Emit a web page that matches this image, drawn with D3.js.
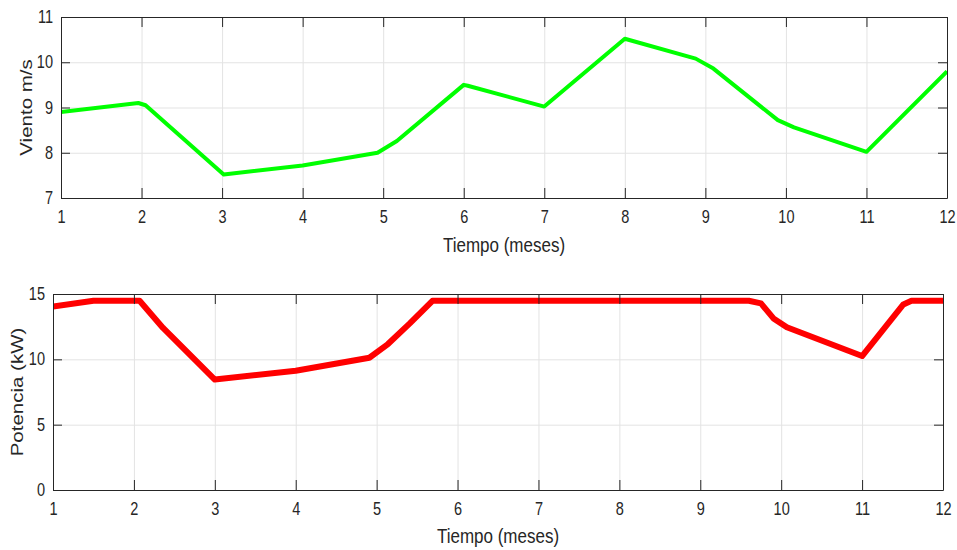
<!DOCTYPE html>
<html>
<head>
<meta charset="utf-8">
<script src="https://cdn.jsdelivr.net/npm/d3@7"></script>
<style>
  body { margin: 0; background: #fff; }
  svg { display: block; font-family: "Liberation Sans", Arial, sans-serif; }
</style>
</head>
<body>
<script>
// datos
const monthTicks = [1, 2, 3, 4, 5, 6, 7, 8, 9, 10, 11, 12];

const windMonths = [1, 1.96, 2.05, 3.02, 4, 4.93, 5.17, 6.0, 6.05, 7, 8, 8.88, 9.1, 9.9, 10.1, 11, 12];
const windSpeed = [8.9, 9.1, 9.05, 7.52, 7.72, 8.0, 8.26, 9.5, 9.48, 9.02, 10.52, 10.08, 9.86, 8.72, 8.56, 8.02, 9.8];
const windTicks = [7, 8, 9, 10, 11];

const powerMonths = [1, 1.5, 2.07, 2.36, 3.0, 4.0, 4.91, 5.14, 5.41, 5.69, 9.6, 9.75, 9.91, 10.07, 11.0, 11.51, 11.61, 12];
const power = [14.05, 14.48, 14.48, 12.4, 8.45, 9.13, 10.12, 11.17, 12.75, 14.48, 14.48, 14.28, 13.1, 12.45, 10.25, 14.2, 14.48, 14.48];
const powerTicks = [0, 5, 10, 15];

const axisColor = '#262626';
const gridColor = '#e3e3e3';
const squeeze = 0.83;

let svg = d3.select('body')
  .append('svg')
  .attr('width', 957)
  .attr('height', 550);

function panel(opts) {
  let w = opts.right - opts.left;
  let h = opts.bottom - opts.top;
  let x = d3.scaleLinear().domain([1, 12]).range([0, w]);
  let y = d3.scaleLinear().domain(opts.yDomain).range([h, 0]);

  let g = svg.append('g')
    .attr('transform', 'translate(' + opts.left + ',' + opts.top + ')');

  // rejilla
  g.append('g')
    .attr('transform', 'translate(0,' + h + ')')
    .call(d3.axisBottom(x).tickValues(monthTicks).tickSize(-h).tickFormat(''))
    .call(s => s.select('.domain').remove())
    .selectAll('line').attr('stroke', gridColor);
  g.append('g')
    .call(d3.axisLeft(y).tickValues(opts.yTicks).tickSize(-w).tickFormat(''))
    .call(s => s.select('.domain').remove())
    .selectAll('line').attr('stroke', gridColor);

  let clipId = 'clip' + opts.top;
  g.append('clipPath').attr('id', clipId)
    .append('rect').attr('width', w).attr('height', h);

  let line = d3.line()
    .x(function (d) { return x(d[0]); })
    .y(function (d) { return y(d[1]); });

  g.append('path')
    .datum(d3.zip(opts.xs, opts.ys))
    .attr('clip-path', 'url(#' + clipId + ')')
    .attr('fill', 'none')
    .attr('stroke', opts.color)
    .attr('stroke-width', opts.width)
    .attr('stroke-linejoin', 'round')
    .attr('d', line);

  // ejes con marcas hacia dentro
  let xAxis = g.append('g')
    .attr('transform', 'translate(0,' + h + ')')
    .call(d3.axisBottom(x).tickValues(monthTicks).tickSize(-10).tickSizeOuter(0).tickPadding(13).tickFormat(d3.format('d')));
  let yAxis = g.append('g')
    .call(d3.axisLeft(y).tickValues(opts.yTicks).tickSize(-9).tickSizeOuter(0).tickPadding(8).tickFormat(d3.format('d')));
  g.append('g')
    .call(d3.axisTop(x).tickValues(monthTicks).tickSize(-10).tickSizeOuter(0).tickFormat(''));
  g.append('g')
    .attr('transform', 'translate(' + w + ',0)')
    .call(d3.axisRight(y).tickValues(opts.yTicks).tickSize(-9).tickSizeOuter(0).tickFormat(''));

  g.selectAll('.domain, .tick line').filter(function () {
    return this.getAttribute('stroke') !== gridColor;
  }).attr('stroke', axisColor);
  g.selectAll('.domain').attr('stroke', axisColor);

  xAxis.selectAll('text')
    .attr('fill', axisColor)
    .style('font-size', '17.5px')
    .attr('transform', 'scale(' + squeeze + ',1)');
  yAxis.selectAll('text')
    .attr('fill', axisColor)
    .style('font-size', '17.5px')
    .attr('x', -8 / squeeze)
    .attr('transform', 'scale(' + squeeze + ',1)');

  svg.append('text')
    .attr('transform', 'translate(' + (opts.left + w / 2) + ',' + opts.xLabelY + ') scale(0.85,1)')
    .attr('text-anchor', 'middle')
    .attr('fill', axisColor)
    .style('font-size', '20px')
    .text('Tiempo (meses)');

  svg.append('text')
    .attr('transform', 'translate(' + opts.yLabelX + ',' + (opts.top + h / 2) + ') scale(' + squeeze + ',1) rotate(-90)')
    .attr('text-anchor', 'middle')
    .attr('fill', axisColor)
    .style('font-size', '20.5px')
    .text(opts.yLabel);
}

panel({
  left: 61, right: 947, top: 17, bottom: 198,
  yDomain: [7, 11], yTicks: windTicks,
  xs: windMonths, ys: windSpeed,
  color: '#00ff00', width: 4,
  xLabelY: 252, yLabelX: 31.5, yLabel: 'Viento m/s'
});

panel({
  left: 53, right: 943, top: 294, bottom: 490,
  yDomain: [0, 15], yTicks: powerTicks,
  xs: powerMonths, ys: power,
  color: '#ff0000', width: 6,
  xLabelY: 543, yLabelX: 23, yLabel: 'Potencia (kW)'
});
</script>
</body>
</html>
